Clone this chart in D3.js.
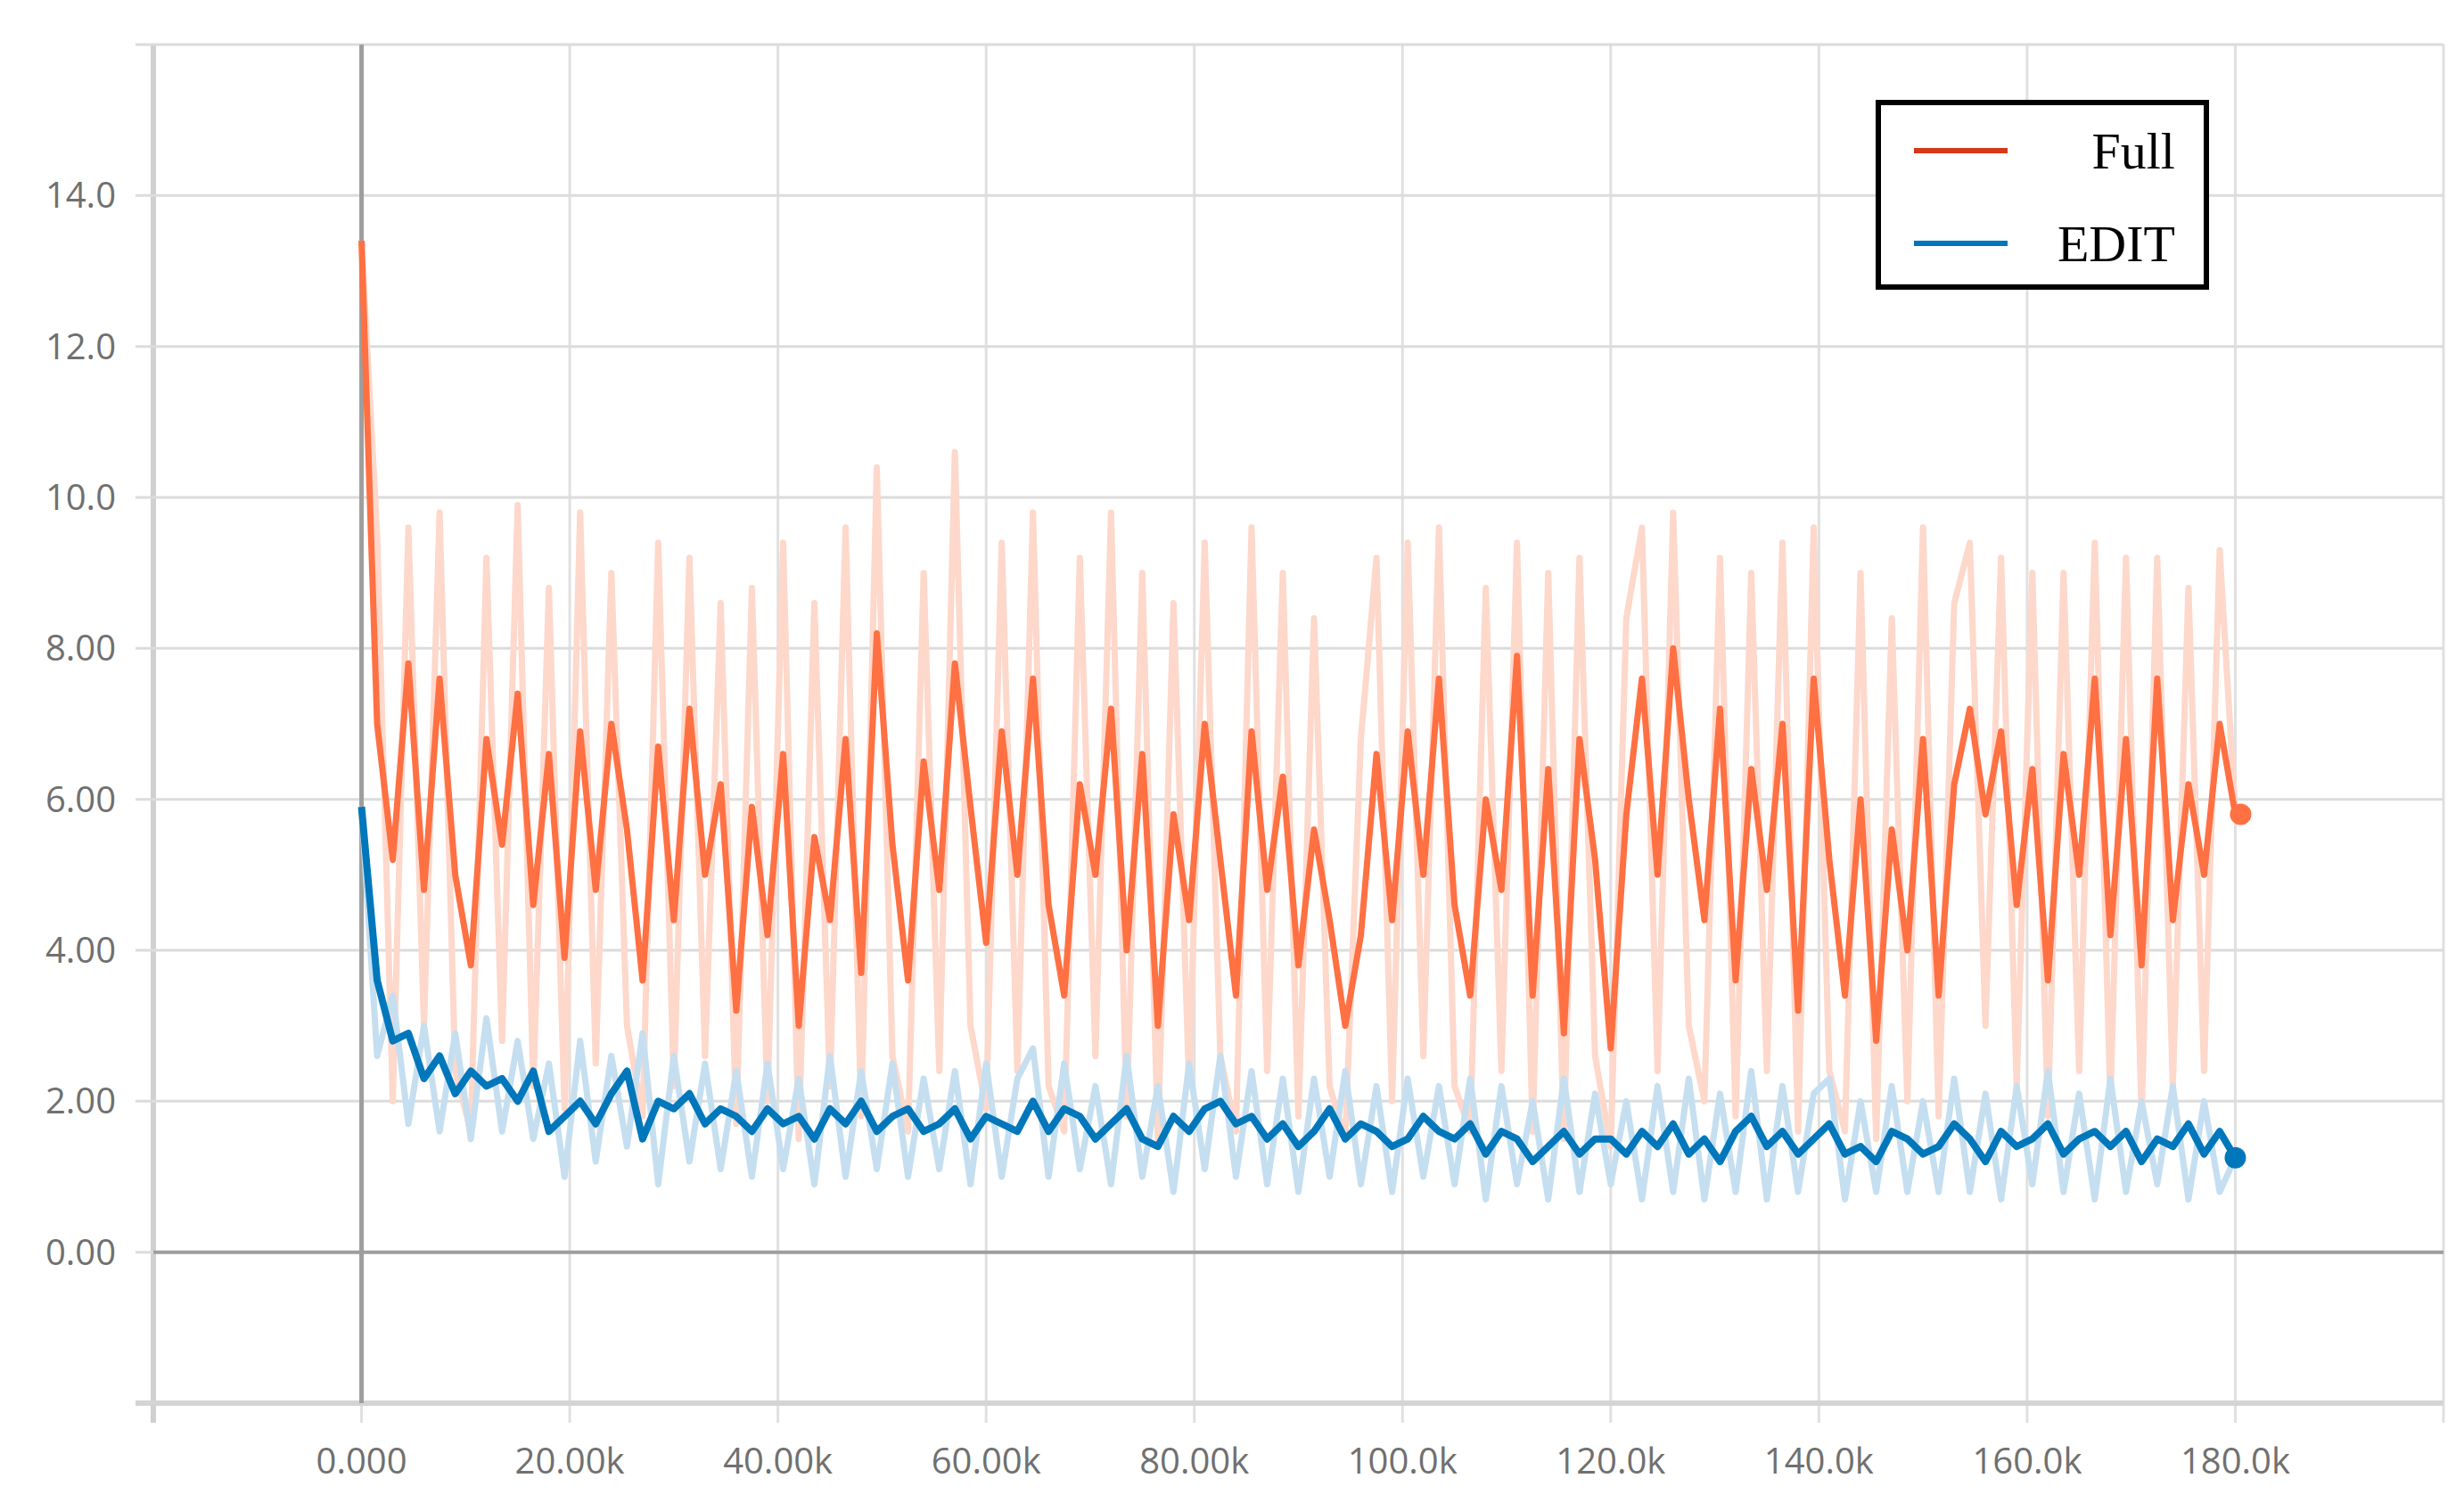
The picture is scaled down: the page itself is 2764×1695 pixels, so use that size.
<!DOCTYPE html>
<html>
<head>
<meta charset="utf-8">
<script src="https://cdn.jsdelivr.net/npm/d3@7"></script>
<style>
  body { margin: 0; background: #fff; }
  svg text { font-family: "Open Sans", sans-serif; }
</style>
</head>
<body>
<svg id="chart" width="2764" height="1695"></svg>
<script>
// step between logged points (training steps)
var step = 1500

var fullSmooth = [13.4,7.0,5.2,7.8,4.8,7.6,5.0,3.8,6.8,5.4,7.4,4.6,6.6,3.9,6.9,4.8,7.0,5.6,3.6,6.7,
  4.4,7.2,5.0,6.2,3.2,5.9,4.2,6.6,3.0,5.5,4.4,6.8,3.7,8.2,5.4,3.6,6.5,4.8,7.8,5.9,
  4.1,6.9,5.0,7.6,4.6,3.4,6.2,5.0,7.2,4.0,6.6,3.0,5.8,4.4,7.0,5.2,3.4,6.9,4.8,6.3,
  3.8,5.6,4.4,3.0,4.2,6.6,4.4,6.9,5.0,7.6,4.6,3.4,6.0,4.8,7.9,3.4,6.4,2.9,6.8,5.2,
  2.7,5.8,7.6,5.0,8.0,6.0,4.4,7.2,3.6,6.4,4.8,7.0,3.2,7.6,5.2,3.4,6.0,2.8,5.6,4.0,
  6.8,3.4,6.2,7.2,5.8,6.9,4.6,6.4,3.6,6.6,5.0,7.6,4.2,6.8,3.8,7.6,4.4,6.2,5.0,7.0,5.8]
var fullRaw = [13.4,9.5,2.0,9.6,3.0,9.8,2.4,1.6,9.2,2.8,9.9,2.2,8.8,1.9,9.8,2.5,9.0,3.0,1.8,9.4,
  2.2,9.2,2.6,8.6,1.7,8.8,2.0,9.4,1.5,8.6,2.2,9.6,1.8,10.4,2.6,1.6,9.0,2.4,10.6,3.0,
  1.9,9.4,2.4,9.8,2.2,1.6,9.2,2.6,9.8,1.8,9.0,1.5,8.6,2.2,9.4,2.6,1.6,9.6,2.4,9.0,
  1.8,8.4,2.2,1.5,6.8,9.2,2.0,9.4,2.6,9.6,2.2,1.6,8.8,2.4,9.4,1.6,9.0,1.5,9.2,2.6,
  1.4,8.4,9.6,2.4,9.8,3.0,2.0,9.2,1.8,9.0,2.4,9.4,1.6,9.6,2.4,1.6,9.0,1.5,8.4,2.0,
  9.6,1.8,8.6,9.4,3.0,9.2,2.2,9.0,1.8,9.0,2.4,9.4,2.0,9.2,1.8,9.2,2.2,8.8,2.4,9.3,5.8]
var editSmooth = [5.9,3.6,2.8,2.9,2.3,2.6,2.1,2.4,2.2,2.3,2.0,2.4,1.6,1.8,2.0,1.7,2.1,2.4,1.5,2.0,
  1.9,2.1,1.7,1.9,1.8,1.6,1.9,1.7,1.8,1.5,1.9,1.7,2.0,1.6,1.8,1.9,1.6,1.7,1.9,1.5,
  1.8,1.7,1.6,2.0,1.6,1.9,1.8,1.5,1.7,1.9,1.5,1.4,1.8,1.6,1.9,2.0,1.7,1.8,1.5,1.7,
  1.4,1.6,1.9,1.5,1.7,1.6,1.4,1.5,1.8,1.6,1.5,1.7,1.3,1.6,1.5,1.2,1.4,1.6,1.3,1.5,
  1.5,1.3,1.6,1.4,1.7,1.3,1.5,1.2,1.6,1.8,1.4,1.6,1.3,1.5,1.7,1.3,1.4,1.2,1.6,1.5,
  1.3,1.4,1.7,1.5,1.2,1.6,1.4,1.5,1.7,1.3,1.5,1.6,1.4,1.6,1.2,1.5,1.4,1.7,1.3,1.6,1.25]
var editRaw = [5.9,2.6,3.4,1.7,3.0,1.6,2.9,1.5,3.1,1.6,2.8,1.5,2.5,1.0,2.8,1.2,2.6,1.4,2.9,0.9,
  2.6,1.2,2.5,1.1,2.4,1.0,2.5,1.1,2.3,0.9,2.6,1.0,2.4,1.1,2.5,1.0,2.3,1.1,2.4,0.9,
  2.5,1.0,2.3,2.7,1.0,2.5,1.1,2.2,0.9,2.6,1.0,2.2,0.8,2.5,1.1,2.6,1.0,2.4,0.9,2.3,
  0.8,2.3,1.0,2.4,0.9,2.2,0.8,2.3,1.0,2.2,0.9,2.3,0.7,2.2,0.9,2.0,0.7,2.3,0.8,2.1,
  0.9,2.0,0.7,2.2,0.8,2.3,0.7,2.1,0.8,2.4,0.7,2.2,0.8,2.1,2.3,0.7,2.0,0.8,2.2,0.8,
  2.0,0.8,2.3,0.8,2.1,0.7,2.2,0.9,2.4,0.8,2.1,0.7,2.3,0.8,2.0,0.9,2.2,0.7,2.0,0.8,1.25]

var yTicks = [0,2,4,6,8,10,12,14]
var xTicks = [0,20000,40000,60000,80000,100000,120000,140000,160000,180000]
var yLabels = ["0.00","2.00","4.00","6.00","8.00","10.0","12.0","14.0"]
var xLabels = ["0.000","20.00k","40.00k","60.00k","80.00k","100.0k","120.0k","140.0k","160.0k","180.0k"]

var svg = d3.select("#chart")
var x = d3.scaleLinear().domain([-20000, 200000]).range([172, 2741])
var y = d3.scaleLinear().domain([-2, 16]).range([1574, 50])

// grid
var gridX = d3.range(-20000, 200001, 20000)
var gridY = d3.range(-2, 16.01, 2)
svg.append("g").selectAll("line").data(gridX).join("line")
    .attr("x1", d => x(d)).attr("x2", d => x(d))
    .attr("y1", y(16)).attr("y2", y(-2) + 22)
    .attr("stroke", d => d === -20000 ? "#d0d0d0" : "#e0e0e0")
    .attr("stroke-width", d => d === -20000 ? 6 : 3)
svg.append("g").selectAll("line").data(gridY).join("line")
    .attr("x1", x(-20000) - 20).attr("x2", x(200000))
    .attr("y1", d => y(d)).attr("y2", d => y(d))
    .attr("stroke", d => d === -2 ? "#d4d4d4" : "#dcdcdc")
    .attr("stroke-width", d => d === -2 ? 6 : 3)
// zero axes
svg.append("line").attr("x1", x(-20000)).attr("x2", x(200000))
    .attr("y1", y(0)).attr("y2", y(0)).attr("stroke", "#9e9e9e").attr("stroke-width", 4)
svg.append("line").attr("x1", x(0)).attr("x2", x(0))
    .attr("y1", y(16)).attr("y2", y(-2)).attr("stroke", "#9e9e9e").attr("stroke-width", 5)

// tick labels
svg.append("g").selectAll("text").data(yTicks).join("text")
    .attr("x", 130).attr("y", d => y(d)).attr("dy", "0.35em")
    .attr("text-anchor", "end").attr("font-size", 40).attr("fill", "#707070")
    .text((d, i) => yLabels[i])
svg.append("g").selectAll("text").data(xTicks).join("text")
    .attr("x", d => x(d)).attr("y", 1639).attr("dy", "0.35em")
    .attr("text-anchor", "middle").attr("font-size", 40).attr("fill", "#707070")
    .text((d, i) => xLabels[i])

var line = d3.line().x((d, i) => x(i * step)).y(d => y(d))

function series(data, color, width) {
    svg.append("path").datum(data).attr("d", line)
        .attr("fill", "none").attr("stroke", color)
        .attr("stroke-width", width).attr("stroke-linejoin", "round")
}
series(fullRaw, "#fdd8cb", 7)
series(editRaw, "#c5dff0", 7)
series(fullSmooth, "#ff7043", 7)
series(editSmooth, "#0077bb", 8)

// end markers
svg.append("circle").attr("cx", x((fullSmooth.length - 1) * step) + 6)
    .attr("cy", y(fullSmooth[fullSmooth.length - 1])).attr("r", 12).attr("fill", "#ff7043")
svg.append("circle").attr("cx", x((editSmooth.length - 1) * step))
    .attr("cy", y(editSmooth[editSmooth.length - 1])).attr("r", 12).attr("fill", "#0077bb")

// legend
var lg = svg.append("g")
lg.append("rect").attr("x", 2107).attr("y", 115).attr("width", 368).attr("height", 207)
    .attr("fill", "#fff").attr("stroke", "#000").attr("stroke-width", 6)
var legend = [{name: "Full", color: "#d43a1a"}, {name: "EDIT", color: "#0077bb"}]
legend.forEach(function (d, i) {
    var cy = 169 + i * 104
    lg.append("line").attr("x1", 2147).attr("x2", 2252).attr("y1", cy).attr("y2", cy)
        .attr("stroke", d.color).attr("stroke-width", 6)
    lg.append("text").attr("x", 2440).attr("y", cy).attr("dy", "0.35em")
        .attr("text-anchor", "end").attr("font-size", 58)
        .style("font-family", "'Liberation Serif', 'DejaVu Serif', serif")
        .attr("fill", "#000").text(d.name)
})
</script>
</body>
</html>
